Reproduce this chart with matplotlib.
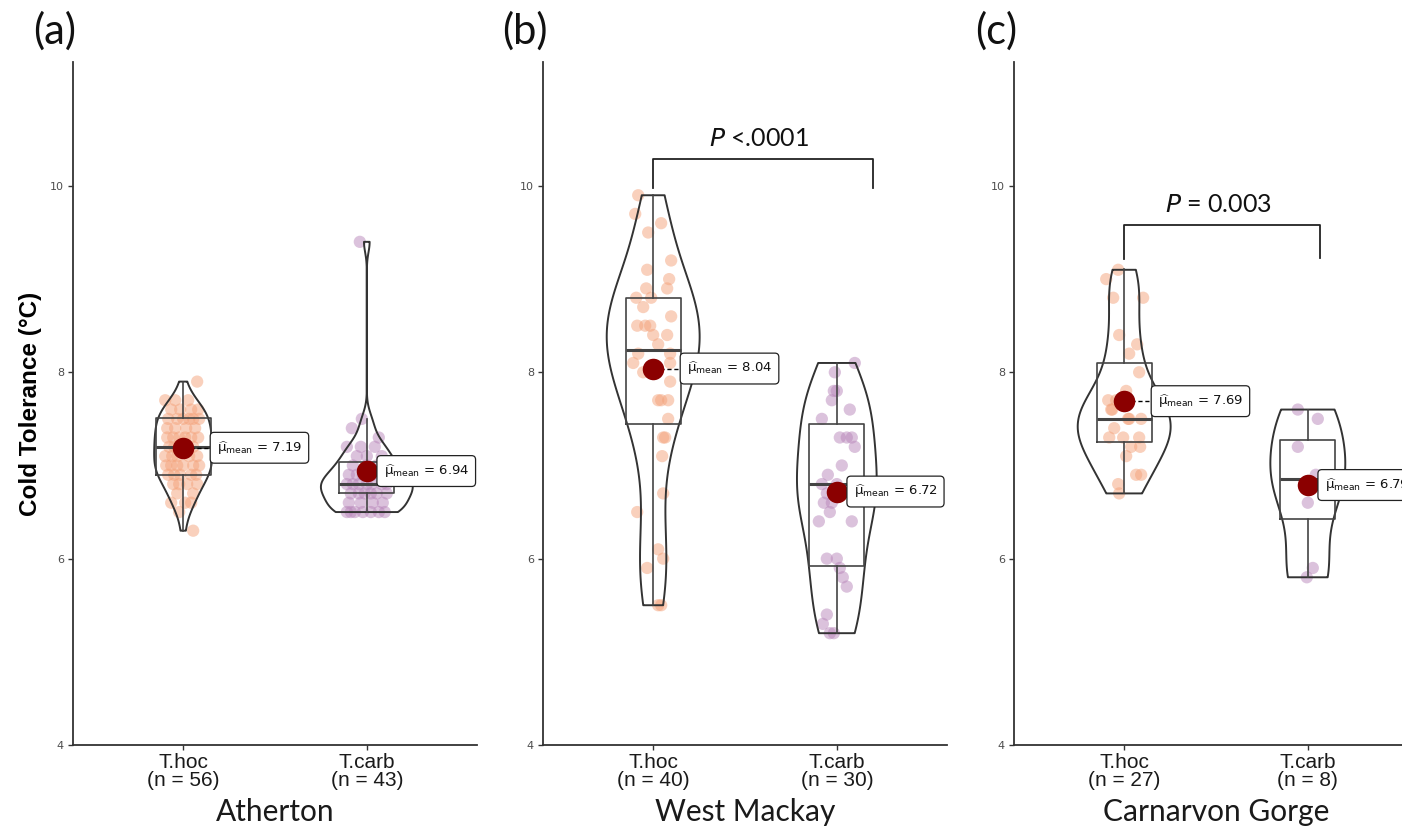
import matplotlib
matplotlib.use("Agg")
import matplotlib.pyplot as plt
import numpy as np

# ---- data -------------------------------------------------------------
sites = ["Atherton", "West Mackay", "Carnarvon Gorge"]
panel_tags = ["(a)", "(b)", "(c)"]
species = ["T.hoc", "T.carb"]
counts = [[56, 43], [40, 30], [27, 8]]
means = [[7.19, 6.94], [8.04, 6.72], [7.69, 6.79]]

# box stats per group: (whisker low, q1, median, q3, whisker high)
box_stats = [
    [(6.3, 6.90, 7.20, 7.51, 7.9), (6.5, 6.70, 6.80, 7.04, 7.5)],
    [(5.5, 7.45, 8.24, 8.80, 9.9), (5.2, 5.92, 6.80, 7.45, 8.1)],
    [(6.7, 7.25, 7.50, 8.10, 9.11), (5.8, 6.43, 6.85, 7.27, 7.6)],
]

# individual cold tolerance readings (value, jitter in px)
ath_hoc = [7.9, 7.7, 7.7, 7.7, 7.6, 7.6, 7.6, 7.6, 7.5, 7.5, 7.5, 7.5, 7.5,
           7.4, 7.4, 7.4, 7.4, 7.3, 7.3, 7.3, 7.3, 7.3, 7.2, 7.2, 7.2, 7.2,
           7.1, 7.1, 7.1, 7.1, 7.1, 7.0, 7.0, 7.0, 7.0, 7.0, 6.9, 6.9, 6.9,
           6.9, 6.8, 6.8, 6.8, 6.8, 6.7, 6.7, 6.6, 6.6, 6.6, 6.5, 6.3,
           7.3, 7.0, 7.5, 6.9, 7.2]
ath_hoc_jit = [14, -18, 5, -8, -12, -3, 8, 15, -15, 0, 10, -6, 16,
               -8, 12, -16, 3, -16, -4, 8, 15, -10, -14, -2, 10, 4,
               -18, -6, 6, 14, -11, -12, 0, 10, 16, -6, -15, -3, 8,
               13, -10, 4, 14, -4, -6, 10, -12, 2, 8, -4, 10,
               2, -17, 6, -9, -9]
ath_carb = [9.4, 7.5, 7.4, 7.3, 7.2, 7.2, 7.2, 7.1, 7.1, 7.1, 7.0, 7.0, 7.0,
            7.0, 6.9, 6.9, 6.9, 6.9, 6.9, 6.8, 6.8, 6.8, 6.8, 6.8, 6.8, 6.8,
            6.7, 6.7, 6.7, 6.7, 6.7, 6.7, 6.6, 6.6, 6.6, 6.6, 6.5, 6.5, 6.5,
            6.5, 6.5, 6.5, 6.5]
ath_carb_jit = [-7, -5, -15, 12, -20, 8, -6, -10, 15, 0, -14, 0, 10,
                18, -18, -4, 6, 14, -10, -20, -8, 5, 15, -14, 20, 0,
                -16, -2, 10, 20, -8, 4, -18, -6, 6, 16, -20, -12, -4,
                4, 12, 18, -16]
wm_hoc = [9.9, 9.7, 9.6, 9.5, 9.2, 9.1, 9.0, 8.9, 8.9, 8.8, 8.7, 8.6, 8.5,
          8.5, 8.4, 8.4, 8.2, 8.2, 8.1, 8.1, 7.9, 7.7, 7.7, 7.5, 7.3, 7.1,
          6.7, 6.5, 6.1, 6.0, 5.9, 5.5, 8.5, 8.3, 8.8, 8.0, 8.0, 7.3, 7.7,
          5.5]
wm_hoc_jit = [-15, -18, 8, -5, 18, -6, 16, 14, -7, -17, -10, 18, -16,
              -3, 0, 14, 17, -15, -20, 17, 17, 5, 15, 15, 10, 9,
              10, -16, 5, 10, -6, 5, -8, 5, -2, 3, -10, 12, 8,
              8]
wm_carb = [8.1, 8.0, 7.8, 7.7, 7.6, 7.5, 7.3, 7.3, 7.2, 7.0, 6.9, 6.8, 6.7,
           6.6, 6.5, 6.4, 6.4, 6.0, 5.9, 5.8, 5.7, 5.4, 5.3, 5.2, 6.6, 6.8,
           7.8, 5.2, 7.3, 6.0]
wm_carb_jit = [18, -2, 0, -5, 13, -15, 3, 15, 18, 5, -9, -15, -10,
               -13, -7, -18, 15, -10, 3, 6, 10, -10, -14, -7, -5, 0,
               -3, -3, 10, 0]
cg_hoc = [9.1, 9.0, 8.8, 8.8, 8.4, 8.3, 8.2, 8.0, 7.8, 7.7, 7.6, 7.5, 7.5,
          7.3, 7.3, 7.3, 7.2, 7.1, 6.9, 6.9, 6.8, 6.7, 7.7, 7.6, 7.5, 7.4,
          7.2]
cg_hoc_jit = [-6, -18, -11, 19, -5, 13, 5, 15, 2, -16, -13, 4, 17,
              -15, -1, 15, 7, 2, 17, 12, -6, -5, -8, -12, 5, -10,
              16]
cg_carb = [7.6, 7.5, 7.2, 6.9, 6.8, 6.6, 5.9, 5.8]
cg_carb_jit = [-10, 10, -10, 8, 2, 0, 5, -1]

values = [[ath_hoc, ath_carb], [wm_hoc, wm_carb], [cg_hoc, cg_carb]]
jitter = [[ath_hoc_jit, ath_carb_jit], [wm_hoc_jit, wm_carb_jit],
          [cg_hoc_jit, cg_carb_jit]]

# pairwise comparisons: panel -> (label, bracket top, left leg end, right leg end, right x)
p_labels = {1: (r"$\mathit{P}$ <.0001", 10.29, 9.98, 9.98, 2.196),
            2: (r"$\mathit{P}$ = 0.003", 9.58, 9.22, 9.23, 2.065)}

# ---- style ------------------------------------------------------------
px_per_unit = 184.0
violin_half = [[0.158, 0.25], [0.253, 0.217], [0.253, 0.204]]
label_offset = [0.183, 0.091]
point_colors = ["#F4A27A", "#B886BA"]
line_col = "#333333"

fig = plt.figure(figsize=(14.02, 8.30), dpi=100)
W, H = 1402.0, 830.0
ax_lefts = [73, 543, 1014]
ax_w = 404


def density_r(x, grid):
    # gaussian kde with R's bw.nrd0 bandwidth
    x = np.asarray(x, float)
    sd = x.std(ddof=1)
    iqr = np.subtract(*np.percentile(x, [75, 25]))
    lo = min(sd, iqr / 1.34) if iqr > 0 else sd
    bw = 0.9 * lo * len(x) ** -0.2
    d = np.exp(-0.5 * ((grid[:, None] - x[None, :]) / bw) ** 2).sum(axis=1)
    return d / (len(x) * bw * np.sqrt(2 * np.pi))


for p in range(3):
    ax = fig.add_axes([ax_lefts[p] / W, (H - 745) / H, ax_w / W, (745 - 62) / H])
    ax.set_xlim(0.4, 2.6)
    ax.set_ylim(4, 11.33)
    ax.set_yticks([4, 6, 8, 10])
    ax.set_xticks([1, 2])
    ax.set_xticklabels([f"{s}\n(n = {n})" for s, n in zip(species, counts[p])],
                       fontsize=15, color="#1a1a1a", family="Liberation Sans",
                       linespacing=0.95)
    ax.tick_params(axis="y", labelsize=8, labelcolor="#4d4d4d", length=3.5,
                   width=1, color=line_col, pad=3)
    ax.tick_params(axis="x", length=3.5, width=1, color=line_col, pad=2)
    for s in ["top", "right"]:
        ax.spines[s].set_visible(False)
    for s in ["left", "bottom"]:
        ax.spines[s].set_color(line_col)
        ax.spines[s].set_linewidth(1.3)
    ax.set_xlabel(sites[p], fontsize=21.5, family="Lato", color="#1a1a1a",
                  labelpad=6)

    for g in range(2):
        pos = g + 1
        vals = np.array(values[p][g], float)
        jit = np.array(jitter[p][g], float) / px_per_unit

        ax.scatter(pos + jit, vals, s=78, color=point_colors[g], alpha=0.5,
                   edgecolors="none", zorder=2)

        grid = np.linspace(vals.min(), vals.max(), 512)
        dens = density_r(vals, grid)
        half = dens / dens.max() * violin_half[p][g]
        ax.fill_betweenx(grid, pos - half, pos + half, facecolor="none",
                         edgecolor=line_col, linewidth=1.4, zorder=3)

        wl, q1, med, q3, wh = box_stats[p][g]
        ax.bxp([{"whislo": wl, "q1": q1, "med": med, "q3": q3, "whishi": wh,
                 "fliers": []}],
               positions=[pos], widths=0.3, showcaps=False, showfliers=False,
               manage_ticks=False, patch_artist=False,
               boxprops=dict(color="#444444", linewidth=1.2),
               whiskerprops=dict(color="#444444", linewidth=1.2),
               medianprops=dict(color="#444444", linewidth=2.2), zorder=3)

        m = means[p][g]
        tx = pos + label_offset[g]
        ax.plot([pos, tx], [m, m], color="black", linestyle=(0, (3, 2)),
                linewidth=1.0, zorder=4)
        ax.plot(pos, m, "o", color="#8B0000", markersize=15.5,
                markeredgewidth=0, zorder=5)
        ax.text(tx, m, r"$\widehat{\mathrm{\mu}}_{\mathrm{mean}}$" + f" = {m:.2f}",
                fontsize=9.5, va="center", ha="left", color="#111111",
                zorder=6,
                bbox=dict(boxstyle="round,pad=0.5,rounding_size=0.3",
                          facecolor="white", edgecolor="#222222",
                          linewidth=0.9))

    if p in p_labels:
        lab, ytop, yl, yr, xr = p_labels[p]
        ax.plot([1.0, 1.0, xr, xr], [yl, ytop, ytop, yr], color="#222222",
                linewidth=1.3, solid_joinstyle="round", zorder=3)
        ax.text((1.0 + xr) / 2 - 0.02, ytop + 0.1, lab, fontsize=18,
                ha="center", va="bottom", color="#111111", family="Lato")

    fig.text((ax_lefts[p] - 18) / W, 1 - 31 / H, panel_tags[p], fontsize=30,
             family="Lato", ha="center", va="center", color="#111111")

    if p == 0:
        ax.set_ylabel("Cold Tolerance (°C)", fontsize=17.5, fontweight="bold",
                      family="Liberation Sans", labelpad=6)

fig.savefig("out.png", dpi=100)
